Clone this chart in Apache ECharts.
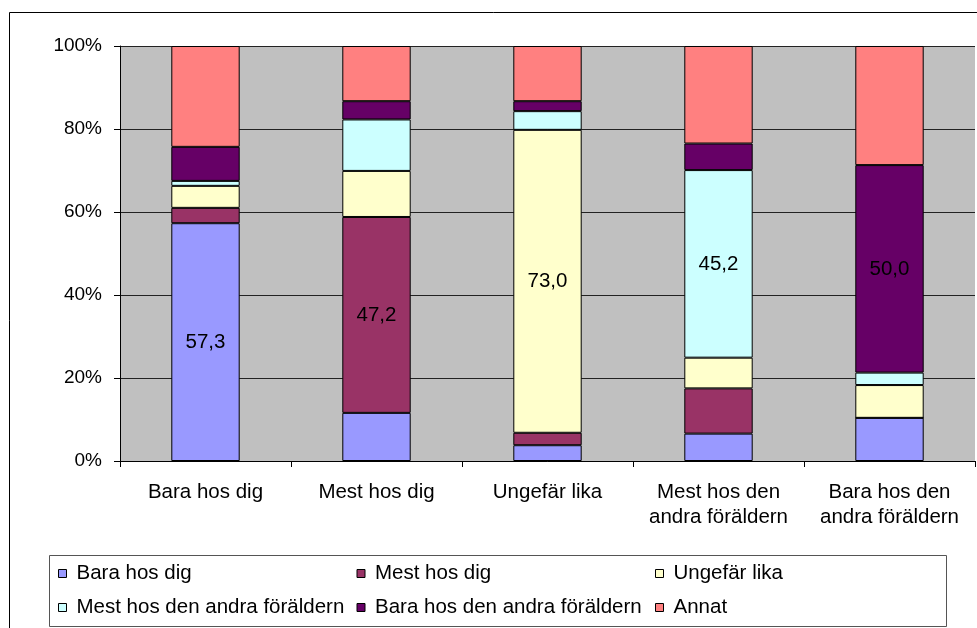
<!DOCTYPE html>
<html>
<head>
<meta charset="utf-8">
<script src="https://cdn.jsdelivr.net/npm/echarts@6/dist/echarts.min.js"></script>
<style>
  html, body { margin: 0; padding: 0; background: #fff; }
  #chart { width: 977px; height: 628px; }
</style>
</head>
<body>
<div id="chart"></div>
<script>
// kategorier och värden (procent)
var categories = ['Bara hos dig', 'Mest hos dig', 'Ungefär lika', 'Mest hos den\nandra föräldern', 'Bara hos den\nandra föräldern'];
var seriesNames = ['Bara hos dig', 'Mest hos dig', 'Ungefär lika', 'Mest hos den andra föräldern', 'Bara hos den andra föräldern', 'Annat'];
var baraHosDig   = [57.3, 11.6, 3.8, 6.6, 10.4];
var mestHosDig   = [3.7, 47.2, 3.0, 10.9, 0];
var ungefarLika  = [5.3, 11.1, 73.0, 7.4, 7.9];
var mestHosAndra = [1.2, 12.4, 4.5, 45.2, 3.0];
var baraHosAndra = [8.2, 4.4, 2.4, 6.4, 50.0];
var annat        = [24.3, 13.3, 13.3, 23.5, 28.7];
var yTicks = [0, 20, 40, 60, 80, 100];

var colors = ['#9999ff', '#993366', '#ffffcc', '#ccffff', '#660066', '#ff8080'];
var values = [baraHosDig, mestHosDig, ungefarLika, mestHosAndra, baraHosAndra, annat];
var font = 'Liberation Sans, Arial, sans-serif';

// bara största delen i varje stapel får etikett
function isLargest(s, c) {
    var best = 0;
    for (var i = 1; i < values.length; i++) {
        if (values[i][c] > values[best][c]) best = i;
    }
    return best === s;
}

var series = seriesNames.map(function (name, s) {
    return {
        name: name,
        type: 'bar',
        stack: 'total',
        barWidth: '40%',
        itemStyle: { color: colors[s], borderColor: '#000', borderWidth: 1 },
        data: values[s].map(function (v, c) {
            return {
                value: v,
                label: {
                    show: isLargest(s, c),
                    position: 'inside',
                    color: '#000',
                    fontFamily: font,
                    fontSize: 20.5,
                    formatter: function (p) { return p.value.toFixed(1).replace('.', ','); }
                }
            };
        })
    };
});

var legendBase = {
    orient: 'horizontal',
    left: 58,
    padding: 0,
    itemGap: 10,
    itemWidth: 8,
    itemHeight: 8,
    icon: 'rect',
    itemStyle: { borderColor: '#000', borderWidth: 1 },
    textStyle: { fontFamily: font, fontSize: 20.5, color: '#000', width: 270, lineHeight: 20, padding: [0, 0, 0, 5], overflow: 'none' }
};

var myChart = echarts.init(document.getElementById('chart'));
var option = {
    backgroundColor: '#fff',
    animation: false,
    grid: {
        left: 120, right: 2, top: 46, bottom: 167,
        show: true, backgroundColor: '#c0c0c0', borderWidth: 0
    },
    legend: [
        Object.assign({}, legendBase, { top: 563, data: seriesNames.slice(0, 3) }),
        Object.assign({}, legendBase, { top: 597, data: seriesNames.slice(3) })
    ],
    graphic: [
        { type: 'rect', silent: true, shape: { x: 9.5, y: 12.5, width: 1000, height: 700 }, style: { fill: 'none', stroke: '#000', lineWidth: 1 } },
        { type: 'rect', silent: true, shape: { x: 49.5, y: 555.5, width: 897, height: 71 }, style: { fill: 'none', stroke: '#555', lineWidth: 1 } }
    ],
    xAxis: {
        type: 'category',
        data: categories,
        axisLine: { lineStyle: { color: '#000', width: 1 } },
        axisTick: { show: true, length: 6, lineStyle: { color: '#000' } },
        axisLabel: { color: '#000', fontFamily: font, fontSize: 20.5, lineHeight: 25, margin: 19, interval: 0 }
    },
    yAxis: {
        type: 'value',
        min: yTicks[0],
        max: yTicks[yTicks.length - 1],
        interval: 20,
        axisLine: { show: true, lineStyle: { color: '#000', width: 1 } },
        axisTick: { show: true, length: 6, lineStyle: { color: '#000' } },
        axisLabel: { color: '#000', fontFamily: font, fontSize: 19, margin: 18, formatter: '{value}%' },
        splitLine: { show: true, lineStyle: { color: '#222', width: 1 } }
    },
    series: series
};
myChart.setOption(option);
window.addEventListener('resize', function () {
    myChart.resize();
});
</script>
</body>
</html>
